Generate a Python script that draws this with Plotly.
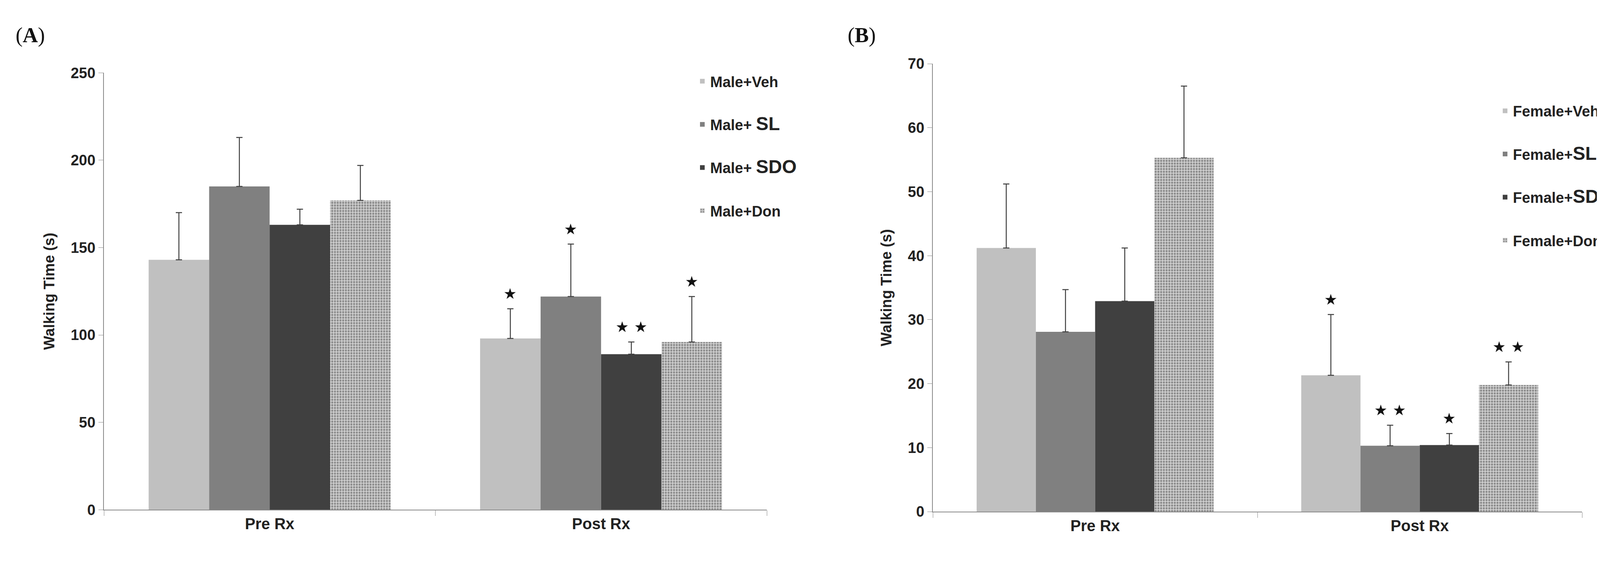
import plotly.graph_objects as go

categories = ["Pre Rx", "Post Rx"]
male_names = ["<b>Male+Veh</b>", "<b>Male+ <span style='font-size:48px'>SL</span></b>",
              "<b>Male+ <span style='font-size:48px'>SDO</span></b>", "<b>Male+Don</b>"]
male_vals = [[143, 98], [185, 122], [163, 89], [177, 96]]
male_err = [[27, 17], [28, 30], [9, 7], [20, 26]]
male_stars = [["", "*"], ["", "*"], ["", "**"], ["", "*"]]
female_names = ["<b>Female+Veh</b>", "<b>Female+<span style='font-size:48px'>SL</span></b>",
                "<b>Female+<span style='font-size:48px'>SDO</span></b>", "<b>Female+Don</b>"]
female_vals = [[41.2, 21.3], [28.1, 10.3], [32.9, 10.4], [55.3, 19.8]]
female_err = [[10.0, 9.5], [6.6, 3.2], [8.3, 1.8], [11.2, 3.6]]
female_stars = [["", "*"], ["", "**"], ["", "*"], ["", "**"]]

colors = ["#c0c0c0", "#808080", "#404040", "#c8c8c8"]
W, H = 4255, 1461
font = "Liberation Sans Narrow, Liberation Sans, Arial"

fig = go.Figure()
for panel, (names, vals, errs, stars, xa, ya, lg) in enumerate([
        (male_names, male_vals, male_err, male_stars, "x", "y", "legend"),
        (female_names, female_vals, female_err, female_stars, "x2", "y2", "legend2")]):
    for i in range(4):
        marker = dict(color=colors[i], line=dict(width=0))
        if i == 3:
            marker["pattern"] = dict(shape=".", fgcolor="#4a4a4a", bgcolor="#cfcfcf", size=7, solidity=0.45)
        fig.add_trace(go.Bar(
            x=categories, y=vals[i], name=names[i], xaxis=xa, yaxis=ya,
            marker=marker, legend=lg, legendgroup=f"{panel}{i}",
            error_y=dict(type="data", array=errs[i], arrayminus=[0, 0], symmetric=False,
                         color="#404040", thickness=2.5, width=8)))

axA = (258 / W, 1955 / W)
axB = (2380 / W, 4042 / W)
fig.update_layout(
    width=W, height=H, paper_bgcolor="white", plot_bgcolor="white",
    margin=dict(l=0, r=0, t=0, b=0), barmode="group", bargap=0.27, bargroupgap=0,
    font=dict(family=font, size=36, color="#222"),
    xaxis=dict(domain=axA, anchor="y", showline=True, linecolor="#888", linewidth=2,
               ticks="outside", tickson="boundaries", ticklen=14, tickcolor="#888",
               tickfont=dict(size=40, family=font), showgrid=False),
    yaxis=dict(domain=(1 - 1313 / H, 1 - 162 / H), range=[0, 250], dtick=50, showline=True,
               linecolor="#888", linewidth=2, ticks="outside", ticklen=12, tickcolor="#888",
               showgrid=False, zeroline=False, tickfont=dict(size=38),
               title=dict(text="<b>Walking Time (s)</b>", font=dict(size=38, family="Liberation Sans, Arial"), standoff=30)),
    xaxis2=dict(domain=axB, anchor="y2", showline=True, linecolor="#888", linewidth=2,
                ticks="outside", tickson="boundaries", ticklen=14, tickcolor="#888",
                tickfont=dict(size=40, family=font), showgrid=False),
    yaxis2=dict(domain=(1 - 1318 / H, 1 - 138 / H), range=[0, 70], dtick=10, showline=True,
                linecolor="#888", linewidth=2, ticks="outside", ticklen=12, tickcolor="#888",
                showgrid=False, zeroline=False, tickfont=dict(size=38), anchor="x2",
                title=dict(text="<b>Walking Time (s)</b>", font=dict(size=38, family="Liberation Sans, Arial"), standoff=30)),
    legend=dict(x=1770 / W, y=1 - 152 / H, xanchor="left", yanchor="top", itemwidth=30,
                font=dict(size=38, family=font), tracegroupgap=58, bgcolor="rgba(0,0,0,0)"),
    legend2=dict(x=3825 / W, y=1 - 230 / H, xanchor="left", yanchor="top", itemwidth=30,
                 font=dict(size=38, family=font), tracegroupgap=58, bgcolor="rgba(0,0,0,0)"),
)
fig.update_xaxes(tickprefix="<b>", ticksuffix="</b>")
fig.update_yaxes(tickprefix="<b>", ticksuffix="</b>")

barpx_A = (axA[1] - axA[0]) * W / 2 * 0.73 / 4
barpx_B = (axB[1] - axB[0]) * W / 2 * 0.73 / 4
for names, vals, errs, stars, xa, ya, bp in [
        (male_names, male_vals, male_err, male_stars, "x", "y", barpx_A),
        (female_names, female_vals, female_err, female_stars, "x2", "y2", barpx_B)]:
    for i in range(4):
        for j, c in enumerate(categories):
            if stars[i][j]:
                fig.add_annotation(x=c, y=vals[i][j] + errs[i][j], xref=xa, yref=ya,
                                   text=stars[i][j].replace("*", "⋆"), showarrow=False,
                                   xshift=(i - 1.5) * bp, yanchor="bottom", yshift=-6,
                                   font=dict(size=76, family="DejaVu Sans", color="#111"))

fig.add_annotation(x=30 / W, y=1 - 30 / H, xref="paper", yref="paper", text="(<b>A</b>)",
                   showarrow=False, xanchor="left", yanchor="top",
                   font=dict(size=54, family="Liberation Serif, DejaVu Serif", color="#111"))
fig.add_annotation(x=2160 / W, y=1 - 30 / H, xref="paper", yref="paper", text="(<b>B</b>)",
                   showarrow=False, xanchor="left", yanchor="top",
                   font=dict(size=54, family="Liberation Serif, DejaVu Serif", color="#111"))

fig.write_html("out.html")
